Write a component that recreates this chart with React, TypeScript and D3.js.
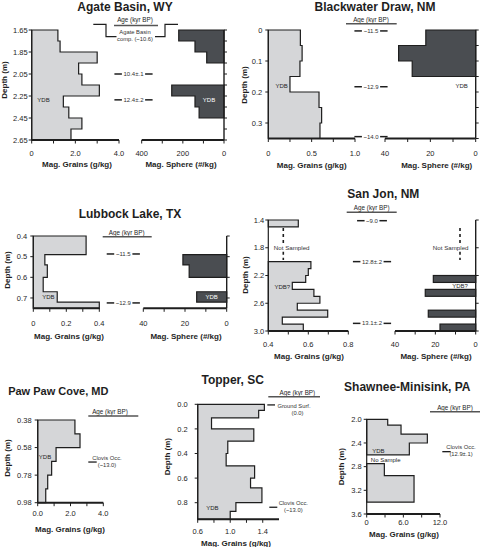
import React from 'react';
import * as d3 from 'd3';

const FONT = '"Liberation Sans", Arial, Helvetica, sans-serif';
const LIGHT = '#d5d6d8';
const DARK = '#4a4d51';
const INK = '#1e1e1e';

// ---------------- DATA ----------------
// Agate Basin, WY
const agateDepths = [1.65, 1.75, 1.85, 1.95, 2.05, 2.15, 2.25, 2.35, 2.45, 2.55, 2.65];
const agateGrains = [1.2, 1.3, 3.0, 2.15, 2.3, 3.1, 1.45, 1.7, 2.3, 1.8];
const agateSpheres = [220, 141, 84, 0, 0, 254, 141, 121, 0, 0];
const agateDepthTicks = [1.65, 1.85, 2.05, 2.25, 2.45, 2.65];
const agateGrainTicks = [0, 2, 4];
const agateGrainTickLabels = ['0', '2.0', '4.0'];
const agateSphereTicks = [400, 200, 0];
const agateSphereTickLabels = ['400', '200', '0'];
const agateAgeDepths = [2.05, 2.285];
const agateAgeLabels = ['10.4±.1', '12.4±.2'];

// Blackwater Draw, NM
const bwDepths = [0, 0.05, 0.1, 0.15, 0.2, 0.25, 0.3, 0.35];
const bwGrains = [0.37, 0.39, 0.365, 0.25, 0.585, 0.615, 0.596];
const bwSpheres = [22, 34, 28, 0, 0, 0, 0];
const bwDepthTicks = [0, 0.1, 0.2, 0.3];
const bwDepthTickLabels = ['0', '0.1', '0.2', '0.3'];
const bwGrainTicks = [0, 0.5, 1.0];
const bwGrainTickLabels = ['0', '0.5', '1.0'];
const bwSphereTicks = [40, 20, 0];
const bwSphereTickLabels = ['40', '20', '0'];
const bwAgeDepths = [0.003, 0.183, 0.344];
const bwAgeLabels = ['~11.5', '~12.9', '~14.0'];

// Lubbock Lake, TX
const lubDepths = [0.4, 0.49, 0.54, 0.6, 0.67, 0.72, 0.75];
const lubGrains = [0.32, 0.07, 0.085, 0.06, 0.145, 0.4];
const lubSpheres = [0, 21, 18, 0, 14.4, 0];
const lubDepthTicks = [0.4, 0.5, 0.6, 0.7];
const lubGrainTicks = [0, 0.2, 0.4];
const lubGrainTickLabels = ['0', '0.2', '0.4'];
const lubSphereTicks = [40, 20, 0];
const lubSphereTickLabels = ['40', '20', '0'];
const lubAgeDepths = [0.487, 0.724];
const lubAgeLabels = ['~11.5', '~12.9'];

// San Jon, NM
const sjDepths = [1.4, 1.5, 2.0, 2.1, 2.2, 2.3, 2.4, 2.5, 2.6, 2.7, 2.8, 2.9, 3.0];
const sjGrains = [0.55, null, 0.613, 0.6, 0.587, 0.52, 0.628, 0.658, 0.545, 0.697, 0.47, 0.575];
const sjSpheres = [0, 0, 0, 0, 21, 0, 25, 0, 0, 23.5, 0, 17.7];
const sjDepthTicks = [1.4, 1.8, 2.2, 2.6, 3.0];
const sjGrainTicks = [0.4, 0.6, 0.8];
const sjGrainTickLabels = ['0.4', '0.6', '0.8'];
const sjSphereTicks = [40, 20, 0];
const sjSphereTickLabels = ['40', '20', '0'];
const sjAgeDepths = [1.41, 2.0, 2.89];
const sjAgeLabels = ['~9.0', '12.8±.2', '13.1±.2'];

// Paw Paw Cove, MD
const ppDepths = [0.38, 0.48, 0.58, 0.68, 0.78, 0.88, 0.98];
const ppGrains = [2.27, 2.58, 1.12, 0.85, 0.61, 0.49];
const ppDepthTicks = [0.38, 0.58, 0.78, 0.98];
const ppGrainTicks = [0, 2, 4];
const ppGrainTickLabels = ['0.0', '2.0', '4.0'];
const ppClovisDepth = 0.685;

// Topper, SC
const topDepths = [0, 0.05, 0.11, 0.2, 0.3, 0.4, 0.5, 0.6, 0.68, 0.8, 0.87, 0.935];
const topGrains = [1.42, 1.35, 0.77, 1.29, 0.97, 0.95, 1.3, 1.25, 1.39, 1.07, 1.0];
const topDepthTicks = [0, 0.2, 0.4, 0.6, 0.8];
const topGrainTicks = [0.6, 1.0, 1.4];
const topGrainTickLabels = ['0.6', '1.0', '1.4'];
const topGroundDepth = 0.005;
const topClovisDepth = 0.837;

// Shawnee-Minisink, PA
const shDepths = [2.0, 2.1, 2.25, 2.4, 2.6, 2.75, 2.95, 3.4];
const shGrains = [3.44, 5.62, 9.93, 6.98, null, 2.89, 7.75];
const shDepthTicks = [2.0, 2.4, 2.8, 3.2, 3.6];
const shGrainTicks = [0, 6, 12];
const shGrainTickLabels = ['0', '6.0', '12.0'];
const shClovisDepth = 2.547;

// ---------------- HELPERS ----------------
type Scale = d3.ScaleLinear<number, number>;

function runPaths(bounds: number[], vals: (number | null)[], x: Scale, y: Scale, base: number): string[] {
  const out: string[] = [];
  let i = 0;
  while (i < vals.length) {
    const v = vals[i];
    if (v == null || v <= base && base >= 0 && v <= 0) { i++; continue; }
    let p = `M${x(base)},${y(bounds[i])}`;
    while (i < vals.length && vals[i] != null && (vals[i] as number) > 0) {
      p += `H${x(vals[i] as number)}V${y(bounds[i + 1])}`;
      i++;
    }
    p += `H${x(base)}Z`;
    out.push(p);
  }
  return out;
}

const CW: Record<string, number> = { '.': 0.278, '~': 0.584, '±': 0.584, ' ': 0.278, '(': 0.333, ')': 0.333 };
function textW(s: string, size: number) {
  let w = 0;
  for (const c of s) w += CW[c] ?? 0.556;
  return w * size;
}

function T(props: { x: number; y: number; size?: number; weight?: any; anchor?: any; fill?: string; children: any }) {
  const { x, y, size = 7.5, weight = 'normal', anchor = 'middle', fill = INK, children } = props;
  return (
    <text x={x} y={y} dy="0.35em" fontSize={size} fontWeight={weight} textAnchor={anchor} fill={fill} fontFamily={FONT}>
      {children}
    </text>
  );
}

function Shapes({ bounds, vals, x, y, base, fill }: any) {
  return (
    <g>
      {runPaths(bounds, vals, x, y, base).map((d, i) => (
        <path key={i} d={d} fill={fill} stroke={INK} strokeWidth={1.2} strokeLinejoin="miter" />
      ))}
    </g>
  );
}

function LeftAxis({ y, x0, ticks, labels, gap = 4, size = 7.5 }: any) {
  const [a, b] = y.range();
  const fmt = d3.format('.1f');
  return (
    <g>
      <line x1={x0} x2={x0} y1={a} y2={b} stroke={INK} strokeWidth={1.2} />
      {ticks.map((t: number, i: number) => (
        <g key={i}>
          <line x1={x0 - 3} x2={x0} y1={y(t)} y2={y(t)} stroke={INK} strokeWidth={1} />
          <T x={x0 - gap} y={y(t)} anchor="end" size={size}>{labels ? labels[i] : fmt(t)}</T>
        </g>
      ))}
    </g>
  );
}

function RightAxis({ y, x0, ticks }: any) {
  const [a, b] = y.range();
  return (
    <g>
      <line x1={x0} x2={x0} y1={a} y2={b} stroke={INK} strokeWidth={1.4} />
      {ticks.map((t: number, i: number) => (
        <line key={i} x1={x0} x2={x0 + 3} y1={y(t)} y2={y(t)} stroke={INK} strokeWidth={1} />
      ))}
    </g>
  );
}

function BottomAxis({ x, y0, ticks, labels, labelY, size = 7.5 }: any) {
  const [a, b] = x.range();
  const minor: number[] = [];
  for (let i = 0; i < ticks.length - 1; i++) minor.push((ticks[i] + ticks[i + 1]) / 2);
  return (
    <g>
      <line x1={Math.min(a, b)} x2={Math.max(a, b)} y1={y0} y2={y0} stroke={INK} strokeWidth={2} />
      {[...ticks, ...minor].map((t: number, i: number) => (
        <line key={i} x1={x(t)} x2={x(t)} y1={y0} y2={y0 + 3.5} stroke={INK} strokeWidth={1} />
      ))}
      {ticks.map((t: number, i: number) => (
        <T key={'l' + i} x={x(t)} y={labelY} size={size}>{labels[i]}</T>
      ))}
    </g>
  );
}

function DepthLabel({ cx, cy }: any) {
  return (
    <text transform={`translate(${cx},${cy}) rotate(-90)`} dy="0.35em" textAnchor="middle" fontSize={8} fontWeight="bold" fill={INK} fontFamily={FONT}>
      Depth (m)
    </text>
  );
}

function AgeHeader({ cx, y, x1, x2 }: any) {
  return (
    <g>
      <T x={cx} y={y} size={6.3}>Age (kyr BP)</T>
      <line x1={x1} x2={x2} y1={y + 4.5} y2={y + 4.5} stroke="#555" strokeWidth={1.4} />
    </g>
  );
}

function AgeMarks({ depths, labels, y, cx, size = 6 }: any) {
  return (
    <g>
      {depths.map((d: number, i: number) => {
        const w = textW(labels[i], size);
        const yy = y(d);
        return (
          <g key={i}>
            <line x1={cx - w / 2 - 9} x2={cx - w / 2 - 1.5} y1={yy} y2={yy} stroke={INK} strokeWidth={1.5} />
            <line x1={cx + w / 2 + 1.5} x2={cx + w / 2 + 9} y1={yy} y2={yy} stroke={INK} strokeWidth={1.5} />
            <T x={cx} y={yy} size={size} fill="#333">{labels[i]}</T>
          </g>
        );
      })}
    </g>
  );
}

function Title({ x, y, size = 12, anchor = 'middle', children }: any) {
  return (
    <text x={x} y={y} fontSize={size} fontWeight="bold" textAnchor={anchor} fill={INK} fontFamily={FONT}>
      {children}
    </text>
  );
}

function AxisLabel({ x, y, children }: any) {
  return <T x={x} y={y} size={8} weight="bold">{children}</T>;
}

function Occ({ x1, x2, y, cx, lines }: any) {
  return (
    <g>
      <line x1={x1} x2={x2} y1={y} y2={y} stroke={INK} strokeWidth={1.3} />
      {lines.map((s: string, i: number) => (
        <T key={i} x={cx} y={y - 4 + i * 7} size={5.8} fill="#333">{s}</T>
      ))}
    </g>
  );
}

// ---------------- PANELS ----------------
function Agate() {
  const y = d3.scaleLinear().domain([1.65, 2.65]).range([30, 140]);
  const xg = d3.scaleLinear().domain([0, 4]).range([31.7, 119]);
  const xs = d3.scaleLinear().domain([400, 0]).range([141.7, 224]);
  return (
    <g>
      <Title x={125} y={10.5}>Agate Basin, WY</Title>
      <Shapes bounds={agateDepths} vals={agateGrains} x={xg} y={y} base={0} fill={LIGHT} />
      <Shapes bounds={agateDepths} vals={agateSpheres} x={xs} y={y} base={0} fill={DARK} />
      <LeftAxis y={y} x0={31.7} ticks={agateDepthTicks} labels={agateDepthTicks.map(d3.format('.2f'))} gap={4} />
      <RightAxis y={y} x0={224} ticks={agateDepths} />
      <BottomAxis x={xg} y0={140} ticks={agateGrainTicks} labels={agateGrainTickLabels} labelY={153} />
      <BottomAxis x={xs} y0={140} ticks={agateSphereTicks} labels={agateSphereTickLabels} labelY={153} />
      <AxisLabel x={77} y={164.5}>Mag. Grains (g/kg)</AxisLabel>
      <AxisLabel x={181} y={164.5}>Mag. Sphere (#/kg)</AxisLabel>
      <DepthLabel cx={4} cy={80} />
      <T x={135} y={19.3} size={6.3}>Age (kyr BP)</T>
      <line x1={114} x2={158} y1={25.5} y2={25.5} stroke="#555" strokeWidth={1.3} />
      <path d="M93.3,24.3H106V36.7H116.5M155,36.7H165V24.3H178" fill="none" stroke={INK} strokeWidth={1.2} />
      <T x={135} y={31.5} size={5.8} fill="#333">Agate Basin</T>
      <T x={135} y={38.8} size={5.8} fill="#333">comp. (~10.6)</T>
      <AgeMarks depths={agateAgeDepths} labels={agateAgeLabels} y={y} cx={133.5} />
      <T x={43.5} y={100} size={6}>YDB</T>
      <T x={209} y={100} size={6} fill="#fff">YDB</T>
    </g>
  );
}

function Blackwater() {
  const y = d3.scaleLinear().domain([0, 0.35]).range([30, 138.5]);
  const xg = d3.scaleLinear().domain([0, 1]).range([268.3, 355]);
  const xs = d3.scaleLinear().domain([40, 0]).range([385, 475.7]);
  return (
    <g>
      <Title x={375} y={10.5}>Blackwater Draw, NM</Title>
      <Shapes bounds={bwDepths} vals={bwGrains} x={xg} y={y} base={0} fill={LIGHT} />
      <Shapes bounds={bwDepths} vals={bwSpheres} x={xs} y={y} base={0} fill={DARK} />
      <LeftAxis y={y} x0={268.3} ticks={bwDepthTicks} labels={bwDepthTickLabels} gap={6} />
      <RightAxis y={y} x0={475.7} ticks={bwDepths} />
      <BottomAxis x={xg} y0={138.5} ticks={bwGrainTicks} labels={bwGrainTickLabels} labelY={153} />
      <BottomAxis x={xs} y0={138.5} ticks={bwSphereTicks} labels={bwSphereTickLabels} labelY={153} />
      <AxisLabel x={311.7} y={165.5}>Mag. Grains (g/kg)</AxisLabel>
      <AxisLabel x={436.7} y={165.5}>Mag. Sphere (#/kg)</AxisLabel>
      <DepthLabel cx={244.5} cy={85} />
      <AgeHeader cx={371} y={19.3} x1={346} x2={396.7} />
      <AgeMarks depths={bwAgeDepths} labels={bwAgeLabels} y={y} cx={371} />
      <T x={281.7} y={85.7} size={6}>YDB</T>
      <T x={461.7} y={85.7} size={6}>YDB</T>
    </g>
  );
}

function Lubbock() {
  const y = d3.scaleLinear().domain([0.4, 0.75]).range([236, 308.3]);
  const xg = d3.scaleLinear().domain([0, 0.4]).range([33.3, 99.3]);
  const xs = d3.scaleLinear().domain([40, 0]).range([143.3, 226.7]);
  return (
    <g>
      <Title x={130} y={217.5}>Lubbock Lake, TX</Title>
      <Shapes bounds={lubDepths} vals={lubGrains} x={xg} y={y} base={0} fill={LIGHT} />
      <Shapes bounds={lubDepths} vals={lubSpheres} x={xs} y={y} base={0} fill={DARK} />
      <LeftAxis y={y} x0={33.3} ticks={lubDepthTicks} gap={6} />
      <RightAxis y={y} x0={226.7} ticks={lubDepthTicks} />
      <BottomAxis x={xg} y0={308.3} ticks={lubGrainTicks} labels={lubGrainTickLabels} labelY={323.3} />
      <BottomAxis x={xs} y0={308.3} ticks={lubSphereTicks} labels={lubSphereTickLabels} labelY={323.3} />
      <AxisLabel x={69} y={336}>Mag. Grains (g/kg)</AxisLabel>
      <AxisLabel x={186} y={336}>Mag. Sphere (#/kg)</AxisLabel>
      <DepthLabel cx={7} cy={270} />
      <AgeHeader cx={126.7} y={232.3} x1={102.7} x2={151.7} />
      <AgeMarks depths={lubAgeDepths} labels={lubAgeLabels} y={y} cx={123.3} />
      <T x={48.3} y={296.7} size={6}>YDB</T>
      <T x={211.7} y={297} size={6} fill="#fff">YDB</T>
    </g>
  );
}

function NotSampled({ x, cx, y1, y2, ty }: any) {
  return (
    <g>
      <line x1={x} x2={x} y1={y1} y2={ty - 4} stroke={INK} strokeWidth={1.6} strokeDasharray="3,3" />
      <line x1={x} x2={x} y1={ty + 4} y2={y2} stroke={INK} strokeWidth={1.6} strokeDasharray="3,3" />
      <T x={cx} y={ty} size={6.2} fill="#333">Not Sampled</T>
    </g>
  );
}

function SanJon() {
  const y = d3.scaleLinear().domain([1.4, 3.0]).range([220, 331]);
  const xg = d3.scaleLinear().domain([0.4, 0.8]).range([268.3, 348.3]);
  const xs = d3.scaleLinear().domain([40, 0]).range([395, 475.7]);
  return (
    <g>
      <Title x={383.3} y={197.5}>San Jon, NM</Title>
      <Shapes bounds={sjDepths} vals={sjGrains} x={xg} y={y} base={0.4} fill={LIGHT} />
      {sjSpheres.map((v, i) =>
        v > 0 ? (
          <rect key={i} x={xs(v)} y={y(sjDepths[i])} width={xs(0) - xs(v)} height={y(sjDepths[i + 1]) - y(sjDepths[i])} fill={DARK} stroke={INK} strokeWidth={1.2} />
        ) : null
      )}
      <LeftAxis y={y} x0={268.3} ticks={sjDepthTicks} gap={4} />
      <RightAxis y={y} x0={475.7} ticks={sjDepthTicks} />
      <BottomAxis x={xg} y0={331} ticks={sjGrainTicks} labels={sjGrainTickLabels} labelY={344} />
      <BottomAxis x={xs} y0={331} ticks={sjSphereTicks} labels={sjSphereTickLabels} labelY={344} />
      <AxisLabel x={309} y={356}>Mag. Grains (g/kg)</AxisLabel>
      <AxisLabel x={436} y={356}>Mag. Sphere (#/kg)</AxisLabel>
      <DepthLabel cx={245} cy={275} />
      <AgeHeader cx={371.7} y={207.7} x1={346.7} x2={396.7} />
      <AgeMarks depths={sjAgeDepths} labels={sjAgeLabels} y={y} cx={372} />
      <NotSampled x={283.3} cx={291.7} y1={228} y2={260} ty={247.7} />
      <NotSampled x={460} cx={450.7} y1={228} y2={260} ty={247.7} />
      <T x={282.3} y={286.5} size={6}>YDB?</T>
      <T x={460} y={286} size={6}>YDB?</T>
    </g>
  );
}

function PawPaw() {
  const y = d3.scaleLinear().domain([0.38, 0.98]).range([420, 502.7]);
  const x = d3.scaleLinear().domain([0, 4]).range([37.7, 103.3]);
  return (
    <g>
      <Title x={58.3} y={395} size={11}>Paw Paw Cove, MD</Title>
      <Shapes bounds={ppDepths} vals={ppGrains} x={x} y={y} base={0} fill={LIGHT} />
      <LeftAxis y={y} x0={37.7} ticks={ppDepthTicks} labels={ppDepthTicks.map(d3.format('.2f'))} gap={6} />
      <BottomAxis x={x} y0={502.7} ticks={ppGrainTicks} labels={ppGrainTickLabels} labelY={513.3} />
      <AxisLabel x={70} y={529}>Mag. Grains (g/kg)</AxisLabel>
      <DepthLabel cx={7.5} cy={458} />
      <AgeHeader cx={110} y={411.5} x1={88.3} x2={138.3} />
      <Occ x1={88.3} x2={96.7} y={y(ppClovisDepth)} cx={107} lines={['Clovis Occ.', '(~13.0)']} />
      <T x={45} y={456.7} size={6}>YDB</T>
    </g>
  );
}

function Topper() {
  const y = d3.scaleLinear().domain([0, 0.935]).range([404.3, 519.3]);
  const x = d3.scaleLinear().domain([0.6, 1.6]).range([197.7, 279]);
  return (
    <g>
      <Title x={232.7} y={384}>Topper, SC</Title>
      <Shapes bounds={topDepths} vals={topGrains} x={x} y={y} base={0.6} fill={LIGHT} />
      <LeftAxis y={y} x0={197.7} ticks={topDepthTicks} gap={10} />
      <BottomAxis x={x} y0={519.3} ticks={topGrainTicks} labels={topGrainTickLabels} labelY={531.7} />
      <AxisLabel x={236} y={542.7}>Mag. Grains (g/kg)</AxisLabel>
      <DepthLabel cx={167} cy={456.7} />
      <AgeHeader cx={297.3} y={392.3} x1={268.3} x2={320} />
      <line x1={267.3} x2={275} y1={y(topGroundDepth)} y2={y(topGroundDepth)} stroke={INK} strokeWidth={1.3} />
      <T x={294} y={406} size={5.8} fill="#333">Ground Surf.</T>
      <T x={297.5} y={412.7} size={5.8} fill="#333">(0.0)</T>
      <line x1={269.3} x2={277.3} y1={y(topClovisDepth)} y2={y(topClovisDepth)} stroke={INK} strokeWidth={1.3} />
      <T x={293.3} y={503.3} size={5.8} fill="#333">Clovis Occ.</T>
      <T x={293.3} y={510} size={5.8} fill="#333">(~13.0)</T>
      <T x={212.3} y={507.7} size={6}>YDB</T>
    </g>
  );
}

function Shawnee() {
  const y = d3.scaleLinear().domain([2.0, 3.6]).range([419.3, 514]);
  const x = d3.scaleLinear().domain([0, 12]).range([366.7, 440]);
  return (
    <g>
      <Title x={407.3} y={391.3}>Shawnee-Minisink, PA</Title>
      <Shapes bounds={shDepths} vals={shGrains} x={x} y={y} base={0} fill={LIGHT} />
      <LeftAxis y={y} x0={366.7} ticks={shDepthTicks} gap={5} />
      <BottomAxis x={x} y0={514} ticks={shGrainTicks} labels={shGrainTickLabels} labelY={522.7} />
      <AxisLabel x={404} y={534}>Mag. Grains (g/kg)</AxisLabel>
      <DepthLabel cx={341} cy={466.7} />
      <AgeHeader cx={455} y={407.3} x1={430} x2={480} />
      <line x1={442.3} x2={450.7} y1={y(shClovisDepth)} y2={y(shClovisDepth)} stroke={INK} strokeWidth={1.3} />
      <T x={461} y={447.3} size={5.8} fill="#333">Clovis Occ.</T>
      <T x={461} y={453.5} size={5.8} fill="#333">(12.9±.1)</T>
      <T x={378.3} y={450.7} size={6}>YDB</T>
      <T x={385.7} y={460} size={6}>No Sample</T>
    </g>
  );
}

export default function App() {
  return (
    <svg width={480} height={547} viewBox="0 0 480 547" style={{ position: 'absolute', left: 0, top: 0, background: '#fff' }}>
      <rect x={0} y={0} width={480} height={547} fill="#fff" />
      <Agate />
      <Blackwater />
      <Lubbock />
      <SanJon />
      <PawPaw />
      <Topper />
      <Shawnee />
    </svg>
  );
}
